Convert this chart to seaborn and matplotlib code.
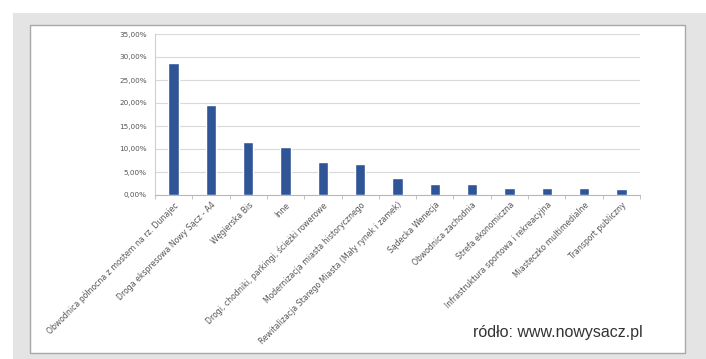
import matplotlib
matplotlib.use("Agg")
import matplotlib.pyplot as plt
import seaborn as sns
import pandas as pd
from matplotlib.patches import Rectangle
from matplotlib.ticker import FuncFormatter, FixedLocator

categories = [
    "Obwodnica północna z mostem na rz. Dunajec",
    "Droga ekspresowa Nowy Sącz - A4",
    "Węgierska Bis",
    "Inne",
    "Drogi, chodniki, parkingi, ścieżki rowerowe",
    "Modernizacja miasta historycznego",
    "Rewitalizacja Starego Miasta (Mały rynek i zamek)",
    "Sądecka Wenecja",
    "Obwodnica zachodnia",
    "Strefa ekonomiczna",
    "Infrastruktura sportowa i rekreacyjna",
    "Miasteczko multimedialne",
    "Transport publiczny",
]
values = [0.287, 0.196, 0.115, 0.105, 0.072, 0.067, 0.036, 0.023, 0.023, 0.016, 0.016, 0.016, 0.012]
source_text = "ródło: www.nowysacz.pl"

df = pd.DataFrame({"cat": categories, "val": values})

sns.set_style("white")
plt.rcParams['font.family'] = ['DejaVu Sans']

fig = plt.figure(figsize=(7.06, 3.59), dpi=100)
fig.patch.set_facecolor("white")
W, H = 706, 359
# gray frame
fig.patches.append(Rectangle((13 / W, 0), (W - 13) / W, (H - 13) / H, transform=fig.transFigure,
                             facecolor="#e4e4e4", edgecolor="none", zorder=-3))
fig.patches.append(Rectangle((30 / W, (H - 353) / H), (685 - 30) / W, (353 - 25) / H, transform=fig.transFigure,
                             facecolor="white", edgecolor="#a8a8a8", linewidth=1.0, zorder=-2))

ax = fig.add_axes([155 / W, (H - 195) / H, (640 - 155) / W, (195 - 34) / H])
ax.set_zorder(2)
ax.set_facecolor("none")
sns.barplot(data=df, x="cat", y="val", color="#2f5597", width=0.28, saturation=1, ax=ax, zorder=3)

ax.set_ylim(0, 0.35)
ax.set_yticks([i * 0.05 for i in range(8)])
ax.yaxis.set_major_formatter(FuncFormatter(lambda v, p: f"{v*100:.2f}%".replace(".", ",")))
ax.grid(axis="y", color="#d9d9d9", linewidth=0.8, zorder=0)
ax.set_xlim(-0.5, len(categories) - 0.5)
ax.xaxis.set_minor_locator(FixedLocator([i - 0.5 for i in range(len(categories) + 1)]))
ax.set_xlabel("")
ax.set_ylabel("")
for s in ["top", "right"]:
    ax.spines[s].set_visible(False)
ax.spines["left"].set_color("#d0d0d0")
ax.spines["bottom"].set_color("#b8b8b8")
ax.tick_params(axis="y", labelsize=5.2, labelcolor="#555555", length=0, pad=6)
ax.tick_params(axis="x", which="major", labelsize=5.6, labelcolor="#555555", length=0, pad=4)
ax.tick_params(axis="x", which="minor", length=3, width=0.6, color="#b8b8b8", direction="out", bottom=True)
for lbl in ax.get_xticklabels():
    lbl.set_rotation(45)
    lbl.set_ha("right")
    lbl.set_rotation_mode("anchor")

fig.text(473 / W, (H - 337) / H, source_text, fontsize=11.5, color="#333333",
         family=["Liberation Sans", "DejaVu Sans"], ha="left", va="baseline", zorder=5)

fig.savefig("out.png", dpi=100)
